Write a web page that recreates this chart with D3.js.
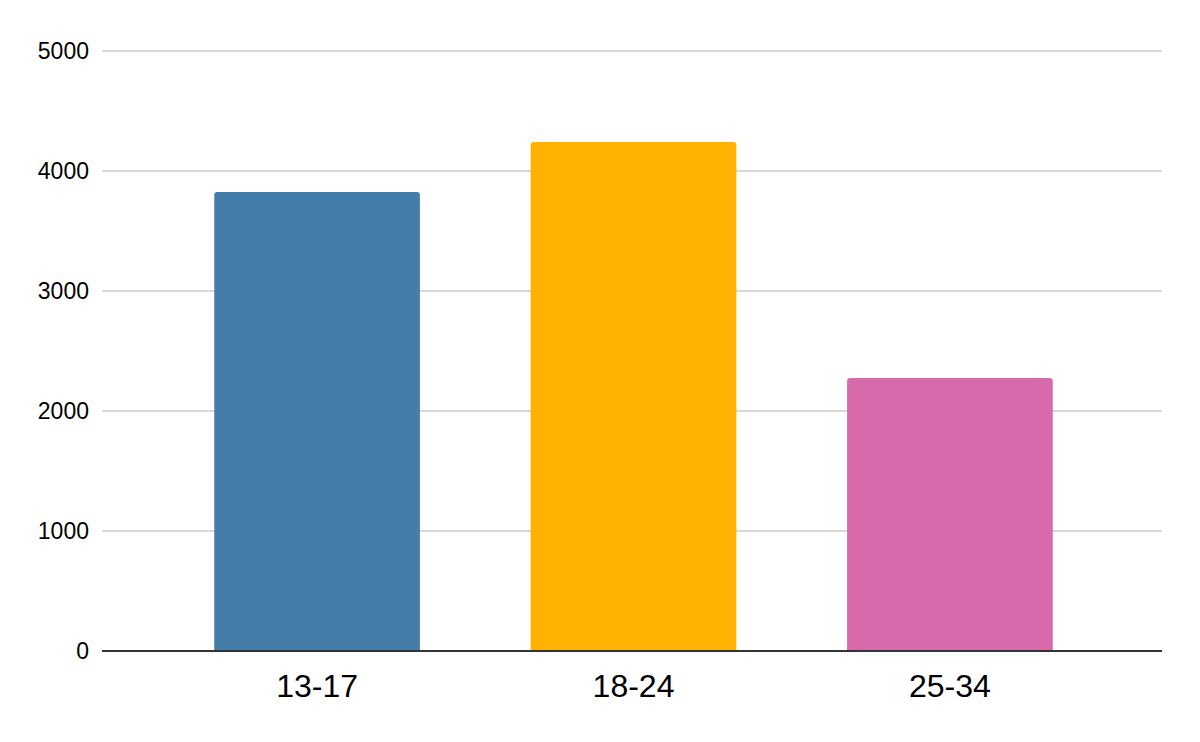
<!DOCTYPE html>
<html>
<head>
<meta charset="utf-8">
<script src="https://cdn.jsdelivr.net/npm/d3@7"></script>
<style>
  body { margin: 0; background: #fff; }
  text { font-family: "Liberation Sans", Arial, sans-serif; fill: #000; }
</style>
</head>
<body>
<svg id="chart" width="1200" height="742"></svg>
<script>
const categories = ["13-17", "18-24", "25-34"];
const values = [3825, 4242, 2275];
const barColors = ["#447DAA", "#FFB300", "#D76AAA"];
const yTicks = [0, 1000, 2000, 3000, 4000, 5000];

const svg = d3.select("#chart");
const plotLeft = 102, plotRight = 1162, plotTop = 51, plotBottom = 651;

// band range nudged 1.5px right to line up with the reference bars
const x = d3.scaleBand()
    .domain(categories)
    .range([plotLeft + 1.5, plotRight + 1.5])
    .paddingInner(0.35)
    .paddingOuter(0.35);

const y = d3.scaleLinear()
    .domain([0, 5000])
    .range([plotBottom, plotTop]);

// Gridlines
svg.append("g")
    .selectAll("line")
    .data(yTicks.filter(d => d > 0))
    .join("line")
    .attr("x1", plotLeft)
    .attr("x2", plotRight)
    .attr("y1", d => y(d))
    .attr("y2", d => y(d))
    .attr("stroke", "#cccccc")
    .attr("stroke-width", 1.5);

// Y labels
svg.append("g")
    .selectAll("text")
    .data(yTicks)
    .join("text")
    .attr("x", 89)
    .attr("y", d => y(d))
    .attr("dy", "0.35em")
    .attr("text-anchor", "end")
    .attr("font-size", 23)
    .text(d => d);

// Bars with rounded top corners
const r = 3;
function barPath(x0, w, yTop, yBot) {
    return `M${x0},${yBot}V${yTop + r}Q${x0},${yTop} ${x0 + r},${yTop}` +
        `H${x0 + w - r}Q${x0 + w},${yTop} ${x0 + w},${yTop + r}V${yBot}Z`;
}

svg.append("g")
    .selectAll("path")
    .data(categories)
    .join("path")
    .attr("d", (d, i) => barPath(x(d), x.bandwidth(), y(values[i]), y(0)))
    .attr("fill", (d, i) => barColors[i]);

// Baseline
svg.append("line")
    .attr("x1", plotLeft)
    .attr("x2", plotRight)
    .attr("y1", y(0))
    .attr("y2", y(0))
    .attr("stroke", "#333333")
    .attr("stroke-width", 2);

// X labels
svg.append("g")
    .selectAll("text")
    .data(categories)
    .join("text")
    .attr("x", d => x(d) + x.bandwidth() / 2)
    .attr("y", 697)
    .attr("text-anchor", "middle")
    .attr("font-size", 32)
    .text(d => d);
</script>
</body>
</html>
